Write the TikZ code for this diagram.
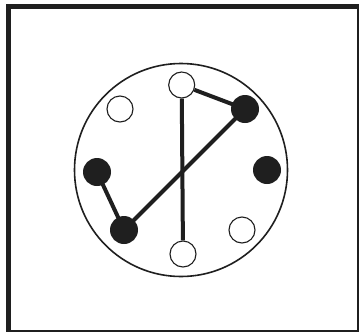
\documentclass[tikz,border=0pt]{standalone}
\begin{document}
\begin{tikzpicture}[x=1pt,y=-1pt,
  frameink/.style={fill=black!88},
  openpin/.style={circle,draw=black!88,fill=white,line width=1.1pt,minimum size=26pt,inner sep=0pt},
  fullpin/.style={circle,fill=black!88,minimum size=28pt,inner sep=0pt},
  wire/.style={draw=black!88,line width=4pt}]
\useasboundingbox (0,0) rectangle (362,333);
\fill[frameink] (6,4) rectangle (359,332);
\fill[white] (11,9) rectangle (357,330);
\draw[black!88,line width=1.6pt] (181,170) circle (106.5);
\node[openpin] (top) at (181.7,85) {};
\node[openpin] (ul) at (120,109) {};
\node[fullpin] (ur) at (245,109) {};
\node[fullpin] (l) at (97,172) {};
\node[fullpin] (r) at (267,170) {};
\node[fullpin] (ll) at (124,230) {};
\node[openpin] (bot) at (183,254) {};
\node[openpin] (lr) at (242,230) {};
\draw[wire] (top) -- (bot);
\draw[wire] (top) -- (ur.center);
\draw[wire] (ur.center) -- (ll.center);
\draw[wire] (l.center) -- (ll.center);
\end{tikzpicture}
\end{document}
